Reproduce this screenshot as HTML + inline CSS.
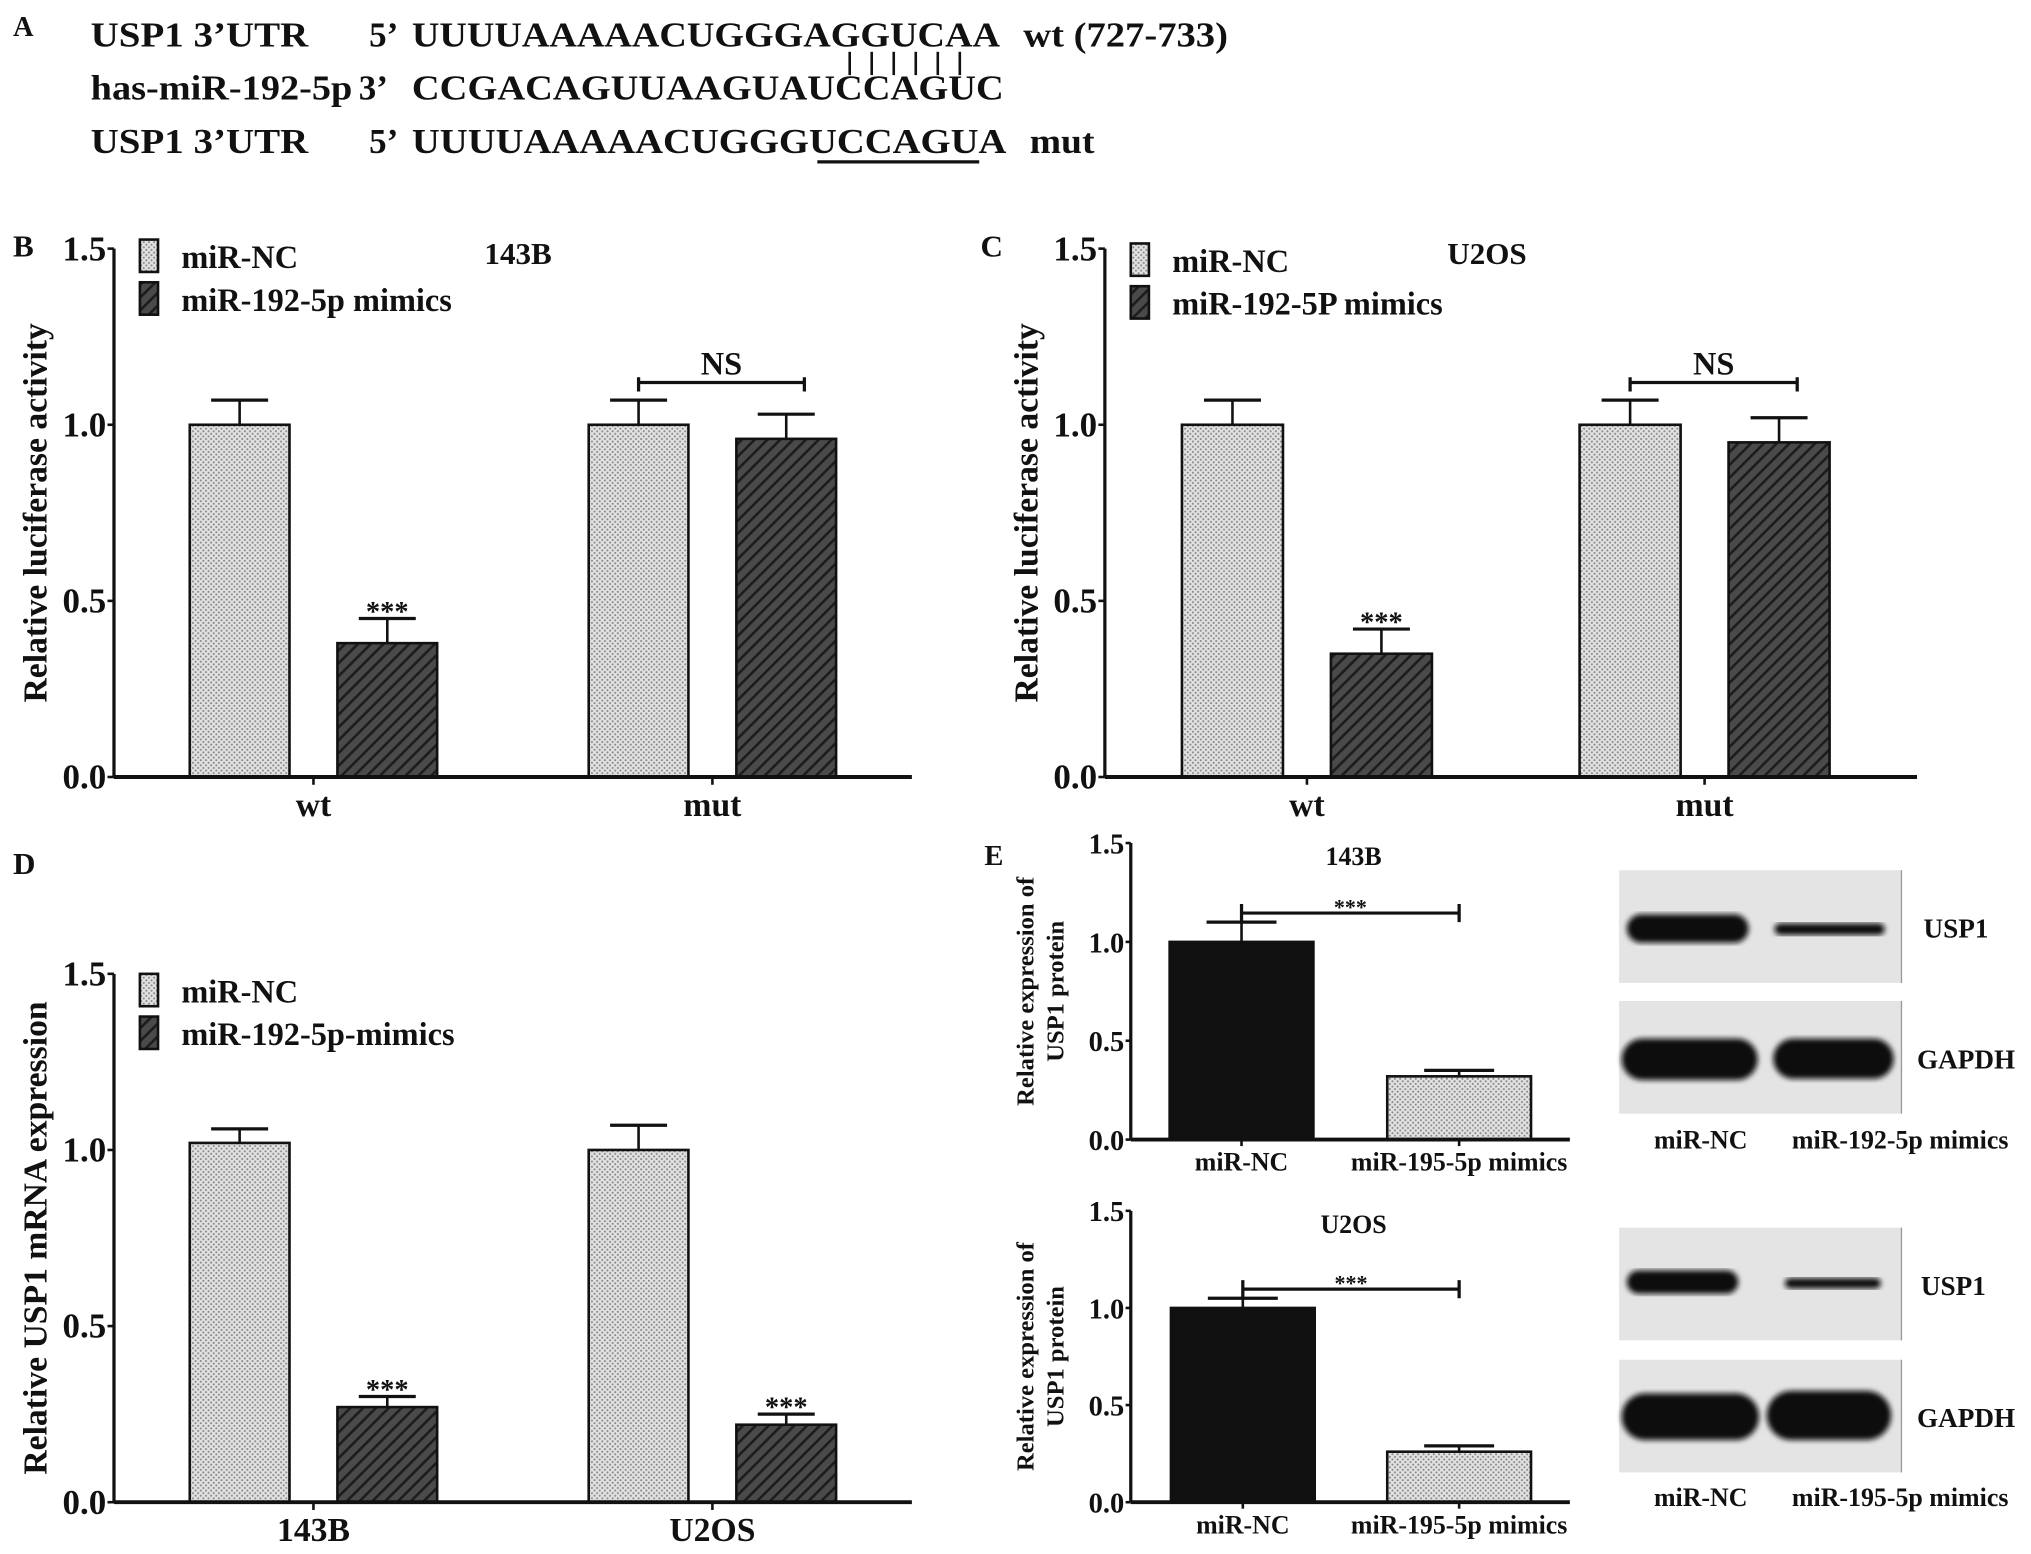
<!DOCTYPE html>
<html><head><meta charset="utf-8">
<style>
html,body{margin:0;padding:0;background:#fff;}
svg{display:block;}
text{font-family:"Liberation Serif",serif;font-weight:bold;fill:#111;}
</style></head>
<body>
<svg id="fig" width="2031" height="1554" viewBox="0 0 1568 1200" preserveAspectRatio="none" xmlns="http://www.w3.org/2000/svg">
<defs>
<pattern id="dots" patternUnits="userSpaceOnUse" width="4" height="4">
<rect width="4" height="4" fill="#e2e2e2"/><circle cx="1" cy="1" r="0.8" fill="#8a8a8a"/><circle cx="3" cy="3" r="0.8" fill="#8a8a8a"/>
</pattern>
<pattern id="hatch" patternUnits="userSpaceOnUse" width="7" height="7" patternTransform="rotate(45)">
<rect width="7" height="7" fill="#4a4a4a"/><rect width="2" height="7" fill="#1c1c1c"/>
</pattern>
<filter id="blur"><feGaussianBlur stdDeviation="2"/></filter>
</defs>

<!-- Panel A -->
<g>
<text x="10" y="28" font-size="22">A</text>
<text x="70" y="36" font-size="27" textLength="168" lengthAdjust="spacingAndGlyphs">USP1 3’UTR</text>
<text x="285" y="36" font-size="27">5’</text>
<text x="318" y="36" font-size="27" textLength="454" lengthAdjust="spacingAndGlyphs">UUUUAAAAACUGGGAGGUCAA</text>
<text x="790" y="36" font-size="27" textLength="158" lengthAdjust="spacingAndGlyphs">wt (727-733)</text>
<g stroke="#111" stroke-width="2">
<line x1="656" y1="40" x2="656" y2="58"/><line x1="673" y1="40" x2="673" y2="58"/><line x1="690" y1="40" x2="690" y2="58"/>
<line x1="707" y1="40" x2="707" y2="58"/><line x1="724" y1="40" x2="724" y2="58"/><line x1="741" y1="40" x2="741" y2="58"/>
</g>
<text x="70" y="77" font-size="27" textLength="202" lengthAdjust="spacingAndGlyphs">has-miR-192-5p</text>
<text x="277" y="77" font-size="27">3’</text>
<text x="318" y="77" font-size="27" textLength="457" lengthAdjust="spacingAndGlyphs">CCGACAGUUAAGUAUCCAGUC</text>
<text x="70" y="118" font-size="27" textLength="168" lengthAdjust="spacingAndGlyphs">USP1 3’UTR</text>
<text x="285" y="118" font-size="27">5’</text>
<text x="318" y="118" font-size="27" textLength="459" lengthAdjust="spacingAndGlyphs">UUUUAAAAACUGGGUCCAGUA</text>
<text x="795" y="118" font-size="27" textLength="50" lengthAdjust="spacingAndGlyphs">mut</text>
<line x1="631" y1="125" x2="756" y2="125" stroke="#111" stroke-width="2.5"/>
</g>

<g id="charts"></g>
<g id="blots"></g>
</svg>

<script>
// Chart B: 143B luciferase
const bCategories = ["wt", "mut"];
const bNC = [1.0, 1.0];
const bNCerr = [0.07, 0.07];
const bMimic = [0.38, 0.96];
const bMimicErr = [0.07, 0.07];
// Chart C: U2OS luciferase
const cCategories = ["wt", "mut"];
const cNC = [1.0, 1.0];
const cNCerr = [0.07, 0.07];
const cMimic = [0.35, 0.95];
const cMimicErr = [0.07, 0.07];
// Chart D: mRNA
const dCategories = ["143B", "U2OS"];
const dNC = [1.02, 1.0];
const dNCerr = [0.04, 0.07];
const dMimic = [0.27, 0.22];
const dMimicErr = [0.03, 0.03];
// Chart E top/bottom
const eCategories = ["miR-NC", "miR-195-5p mimics"];
const eTopValues = [1.0, 0.32];
const eTopErr = [0.10, 0.03];
const eBotValues = [1.0, 0.26];
const eBotErr = [0.05, 0.03];
const yTicks = ["0.0", "0.5", "1.0", "1.5"];

const NS = "http://www.w3.org/2000/svg";
const charts = document.getElementById('charts');
function el(tag, attrs, parent, txt) {
  const e = document.createElementNS(NS, tag);
  for (const k in attrs) e.setAttribute(k, attrs[k]);
  if (txt !== undefined) e.textContent = txt;
  parent.appendChild(e);
  return e;
}

function groupedChart(o) {
  const g = el('g', {}, charts);
  
  
  const y = v => o.y0 - v / 1.5 * (o.y0 - o.y15);
  yTicks.forEach(t => {
    const yy = y(parseFloat(t));
    el('line', {x1: o.ax - 5, y1: yy, x2: o.ax, y2: yy, stroke: '#111', 'stroke-width': 2}, g);
    const tx = el('text', {x: o.ax - 6, y: yy + 9, 'font-size': o.tickFs, 'text-anchor': 'end'}, g, t);
    
    
  });
  const bw = o.bw;
  o.cats.forEach((c, i) => {
    const cx = o.catX[i];
    const xs = [cx - o.gap / 2 - bw, cx + o.gap / 2];
    [[o.nc, o.ncErr, 'url(#dots)'], [o.mi, o.miErr, 'url(#hatch)']].forEach((s, j) => {
      const v = s[0][i], e = s[1][i];
      const x = xs[j], mid = x + bw / 2;
      el('line', {x1: mid, y1: y(v), x2: mid, y2: y(v + e), stroke: '#111', 'stroke-width': 2}, g);
      el('line', {x1: mid - 22, y1: y(v + e), x2: mid + 22, y2: y(v + e), stroke: '#111', 'stroke-width': 2.5}, g);
      const r = el('rect', {x: x, y: y(v), width: bw, height: o.y0 - y(v), fill: s[2], stroke: '#111', 'stroke-width': 2}, g);
      
      
      if (j === 1 && o.starsOn[i]) {
        el('text', {x: mid, y: y(v + e) + 2, 'font-size': 22, 'text-anchor': 'middle'}, g, '***');
      }
    });
    el('line', {x1: cx, y1: o.y0, x2: cx, y2: o.y0 + 6, stroke: '#111', 'stroke-width': 2}, g);
    const ct = el('text', {x: cx, y: o.y0 + 30, 'font-size': 26, 'text-anchor': 'middle'}, g, c);
    
    
    if (o.nsOn && o.nsOn[i]) {
      const x1 = xs[0] + bw / 2, x2 = xs[1] + bw / 2 + 14, yy = y(Math.max(o.nc[i] + o.ncErr[i], o.mi[i] + o.miErr[i]) + 0.05);
      el('path', {d: `M${x1} ${yy + 7}V${yy - 4}M${x1} ${yy}H${x2}M${x2} ${yy + 7}V${yy - 4}`, fill: 'none', stroke: '#111', 'stroke-width': 2.5}, g);
      el('text', {x: (x1 + x2) / 2, y: yy - 6, 'font-size': 25, 'text-anchor': 'middle'}, g, 'NS');
    }
  });
  el('line', {x1: o.ax, y1: o.y15, x2: o.ax, y2: o.y0, stroke: '#111', 'stroke-width': 2.5}, g);
  el('line', {x1: o.ax, y1: o.y0, x2: o.axEnd, y2: o.y0, stroke: '#111', 'stroke-width': 3}, g);
  const lg = el('g', {}, g);
  
  
  el('rect', {x: o.ax + 20, y: o.legY, width: 14, height: 25, fill: 'url(#dots)', stroke: '#111', 'stroke-width': 2}, lg);
  el('rect', {x: o.ax + 20, y: o.legY + 33, width: 14, height: 25, fill: 'url(#hatch)', stroke: '#111', 'stroke-width': 2}, lg);
  el('text', {x: o.ax + 52, y: o.legY + 22, 'font-size': 25}, lg, 'miR-NC');
  el('text', {x: o.ax + 52, y: o.legY + 55, 'font-size': 25}, lg, o.legMimic);
  if (o.title) el('text', {x: o.titleX, y: o.y15 + 12, 'font-size': 24, 'text-anchor': 'middle'}, g, o.title);
  el('text', {x: o.letterX, y: o.letterY, 'font-size': 24}, g, o.letter);
  const yt = el('text', {x: 0, y: 0, 'font-size': 26, 'text-anchor': 'middle', transform: `translate(${o.ax - 52},${(o.y0 + o.y15) / 2}) rotate(-90)`}, g, o.ytitle);
  
  
}

groupedChart({name: 'chart-b-143b-luciferase', ax: 88, axEnd: 704, y0: 600, y15: 192, bw: 77, gap: 37, tickFs: 27,
  cats: bCategories, catX: [242, 550], nc: bNC, ncErr: bNCerr, mi: bMimic, miErr: bMimicErr, starsOn: [true, false], nsOn: [false, true],
  legY: 185, legMimic: 'miR-192-5p mimics', title: '143B', titleX: 400, letter: 'B', letterX: 10, letterY: 198, ytitle: 'Relative luciferase activity'});
groupedChart({name: 'chart-c-u2os-luciferase', ax: 853, axEnd: 1480, y0: 600, y15: 192, bw: 78, gap: 37, tickFs: 27,
  cats: cCategories, catX: [1009, 1316], nc: cNC, ncErr: cNCerr, mi: cMimic, miErr: cMimicErr, starsOn: [true, false], nsOn: [false, true],
  legY: 188, legMimic: 'miR-192-5P mimics', title: 'U2OS', titleX: 1148, letter: 'C', letterX: 757, letterY: 198, ytitle: 'Relative luciferase activity'});
groupedChart({name: 'chart-d-usp1-mrna', ax: 88, axEnd: 704, y0: 1160, y15: 752, bw: 77, gap: 37, tickFs: 27,
  cats: dCategories, catX: [242, 550], nc: dNC, ncErr: dNCerr, mi: dMimic, miErr: dMimicErr, starsOn: [true, true], nsOn: [false, false],
  legY: 752, legMimic: 'miR-192-5p-mimics', title: '', letter: 'D', letterX: 10, letterY: 675, ytitle: 'Relative USP1 mRNA expression'});

function simpleChart(o) {
  const g = el('g', {}, charts);
  
  
  const y = v => o.y0 - v / 1.5 * (o.y0 - o.y15);
  yTicks.forEach(t => {
    const yy = y(parseFloat(t));
    el('line', {x1: o.ax - 4, y1: yy, x2: o.ax, y2: yy, stroke: '#111', 'stroke-width': 2}, g);
    el('text', {x: o.ax - 5, y: yy + 8, 'font-size': 22, 'text-anchor': 'end'}, g, t);
  });
  const fills = ['#111', 'url(#dots)'];
  const mids = [];
  eCategories.forEach((c, i) => {
    const x = o.barX[i], bw = 111, mid = x + bw / 2, v = o.vals[i], e = o.errs[i];
    mids.push(mid);
    el('line', {x1: mid, y1: y(v), x2: mid, y2: y(v + e), stroke: '#111', 'stroke-width': 2}, g);
    el('line', {x1: mid - 27, y1: y(v + e), x2: mid + 27, y2: y(v + e), stroke: '#111', 'stroke-width': 2.5}, g);
    const r = el('rect', {x: x, y: y(v), width: bw, height: o.y0 - y(v), fill: fills[i], stroke: '#111', 'stroke-width': 2}, g);
    
    
    el('line', {x1: mid, y1: o.y0, x2: mid, y2: o.y0 + 5, stroke: '#111', 'stroke-width': 2}, g);
    el('text', {x: mid, y: o.y0 + 24, 'font-size': 20, 'text-anchor': 'middle'}, g, c);
  });
  const by = y(o.vals[0] + o.errs[0]) - 7;
  el('path', {d: `M${mids[0]} ${by - 7}V${by + 7}M${mids[0]} ${by}H${mids[1]}M${mids[1]} ${by - 7}V${by + 7}`, stroke: '#111', 'stroke-width': 2.5, fill: 'none'}, g);
  el('text', {x: (mids[0] + mids[1]) / 2, y: by + 1, 'font-size': 17, 'text-anchor': 'middle'}, g, '***');
  el('line', {x1: o.ax, y1: o.y15, x2: o.ax, y2: o.y0, stroke: '#111', 'stroke-width': 2.5}, g);
  el('line', {x1: o.ax, y1: o.y0, x2: 1212, y2: o.y0, stroke: '#111', 'stroke-width': 3}, g);
  el('text', {x: 1045, y: o.y15 + 17, 'font-size': 20, 'text-anchor': 'middle'}, g, o.title);
  const cy = (o.y0 + o.y15) / 2;
  el('text', {x: 0, y: 0, 'font-size': 19, 'text-anchor': 'middle', transform: `translate(${o.ax - 75},${cy}) rotate(-90)`}, g, 'Relative expression of');
  el('text', {x: 0, y: 0, 'font-size': 19, 'text-anchor': 'middle', transform: `translate(${o.ax - 52},${cy}) rotate(-90)`}, g, 'USP1 protein');
}
simpleChart({name: 'chart-e-143b-protein', ax: 873, y0: 880, y15: 651, barX: [903, 1071], vals: eTopValues, errs: eTopErr, title: '143B'});
simpleChart({name: 'chart-e-u2os-protein', ax: 873, y0: 1160, y15: 935, barX: [904, 1071], vals: eBotValues, errs: eBotErr, title: 'U2OS'});
el('text', {x: 760, y: 668, 'font-size': 22}, charts, 'E');

const blots = document.getElementById('blots');
function blot(top, label, bands, name, lx) {
  const g = el('g', {}, blots);
  
  
  el('rect', {x: 1250, y: top, width: 218, height: 87, fill: '#e4e4e4'}, g);
  el('line', {x1: 1468, y1: top, x2: 1468, y2: top + 87, stroke: '#999', 'stroke-width': 1}, g);
  bands.forEach(b => el('rect', {x: b[0], y: b[1], width: b[2] - b[0], height: b[3], rx: b[3] / 2, fill: '#111', filter: 'url(#blur)'}, g));
  el('text', {x: lx, y: top + 52, 'font-size': 21}, g, label);
}
blot(672, 'USP1', [[1256, 706, 1350, 22], [1370, 713, 1455, 9]], 'blot-143b-usp1', 1485);
blot(773, 'GAPDH', [[1252, 802, 1357, 32], [1369, 802, 1462, 31]], 'blot-143b-gapdh', 1480);
el('text', {x: 1313, y: 887, 'font-size': 20, 'text-anchor': 'middle'}, blots, 'miR-NC');
el('text', {x: 1467, y: 887, 'font-size': 20, 'text-anchor': 'middle'}, blots, 'miR-192-5p mimics');
blot(948, 'USP1', [[1256, 981, 1342, 18], [1378, 987, 1452, 8]], 'blot-u2os-usp1', 1483);
blot(1050, 'GAPDH', [[1252, 1076, 1358, 36], [1364, 1074, 1460, 38]], 'blot-u2os-gapdh', 1480);
el('text', {x: 1313, y: 1163, 'font-size': 20, 'text-anchor': 'middle'}, blots, 'miR-NC');
el('text', {x: 1467, y: 1163, 'font-size': 20, 'text-anchor': 'middle'}, blots, 'miR-195-5p mimics');
</script>
</body></html>
